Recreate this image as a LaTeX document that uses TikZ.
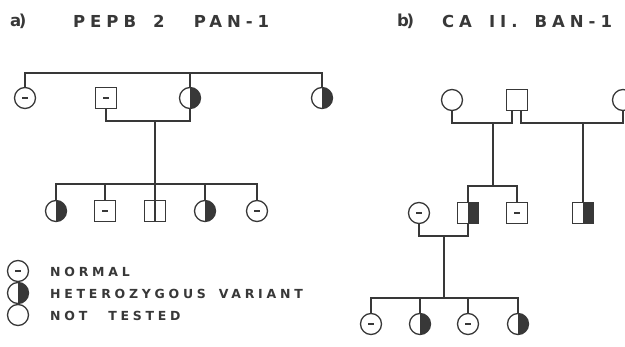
\documentclass[tikz,border=0pt]{standalone}
\usepackage{fontspec}
\setmainfont{DejaVu Sans}
\newfontfamily\titlefont[LetterSpace=30]{DejaVu Sans}
\newfontfamily\keyfont[LetterSpace=30,WordSpace=1.6]{DejaVu Sans}
\definecolor{ink}{HTML}{383838}
\tikzset{
  fem/.style={circle,draw=ink,line width=1.3pt,minimum size=21pt,inner sep=0pt},
  mal/.style={rectangle,draw=ink,line width=1.3pt,minimum size=21pt,inner sep=0pt},
  het/.style={path picture={\fill[ink] (path picture bounding box.north) rectangle (path picture bounding box.south east);}},
  norm/.style={path picture={\fill[ink] (path picture bounding box.center) +(-3pt,-1pt) rectangle +(3pt,1pt);}},
  line/.style={draw=ink,line width=1.2pt},
  key/.style={anchor=west,inner sep=0pt,text=ink,font=\keyfont\bfseries\fontsize{12.5}{14}\selectfont},
  ttl/.style={anchor=west,inner sep=0pt,text=ink,font=\titlefont\bfseries\fontsize{16.5}{19}\selectfont}
}
\begin{document}
\begin{tikzpicture}[x=1pt,y=-1pt]
  \useasboundingbox (0,0) rectangle (625,347);
  \node[ttl] (ta) at (10,21) {a\kern-2.5pt)};
  \node[ttl] (tna) at (73,21) {PEPB 2\hspace{12pt} PAN-1};
  \node[ttl] (tb) at (397,21) {b\kern-2.5pt)};
  \node[ttl] (tnb) at (442,21) {CA II. BAN-1};
  % a)
  \node[fem,norm] (a1) at (25,98) {};
  \node[mal,norm] (a2) at (106,98) {};
  \node[fem,het] (a3) at (190,98) {};
  \node[fem,het] (a4) at (322,98) {};
  \coordinate (topa) at (190,73);
  \coordinate (ma) at (155,121);
  \coordinate (sa) at (155,184);
  \draw[line] (a1.north) |- (topa) -| (a4.north);
  \draw[line] (topa) -- (a3.north);
  \draw[line] (a2.south) |- (ma) -| (a3.south);
  \draw[line] (ma) -- (sa);
  \node[fem,het] (c1) at (56,211) {};
  \node[mal,norm] (c2) at (105,211) {};
  \node[mal] (c3) at (155,211) {};
  \node[fem,het] (c4) at (205,211) {};
  \node[fem,norm] (c5) at (257,211) {};
  \draw[line] (c1.north) |- (sa) -| (c5.north);
  \draw[line] (c2.north) -- (c2.north |- sa);
  \draw[line] (c4.north) -- (c4.north |- sa);
  \draw[line] (sa) -- (c3.south);
  % key
  \begin{scope}[every node/.append style={minimum size=16pt}]
    \node[fem,norm] (k1) at (18,271) {};
    \node[fem,het] (k2) at (18,293) {};
    \node[fem] (k3) at (18,315) {};
  \end{scope}
  \node[key] (n1) at (50,272) {NORMAL};
  \node[key] (n2) at (50,294) {HETEROZYGOUS VARIANT};
  \node[key] (n3) at (50,316) {NOT\hspace{8pt} TESTED};
  % b)
  \node[fem] (b1) at (452,100) {};
  \node[mal] (b2) at (517,100) {};
  \node[fem] (b3) at (623,100) {};
  \coordinate (mb1) at (493,123);
  \coordinate (mb2) at (583,123);
  \coordinate (sb) at (493,186);
  \draw[line] (b1.south) |- (mb1) -| ([xshift=-5pt]b2.south);
  \draw[line] ([xshift=4pt]b2.south) |- (mb2) -| (b3.south);
  \draw[line] (mb1) -- (sb);
  \node[fem,norm] (d1) at (419,213) {};
  \node[mal,het] (d2) at (468,213) {};
  \node[mal,norm] (d3) at (517,213) {};
  \node[mal,het] (d4) at (583,213) {};
  \draw[line] (d2.north) |- (sb) -| (d3.north);
  \draw[line] (mb2) -- (d4.north);
  \coordinate (mc) at (444,236);
  \coordinate (sc) at (444,298);
  \draw[line] (d1.south) |- (mc) -| (d2.south);
  \draw[line] (mc) -- (sc);
  \node[fem,norm] (e1) at (371,324) {};
  \node[fem,het] (e2) at (420,324) {};
  \node[fem,norm] (e3) at (468,324) {};
  \node[fem,het] (e4) at (518,324) {};
  \draw[line] (e1.north) |- (sc) -| (e4.north);
  \draw[line] (e2.north) -- (e2.north |- sc);
  \draw[line] (e3.north) -- (e3.north |- sc);
\end{tikzpicture}
\end{document}
